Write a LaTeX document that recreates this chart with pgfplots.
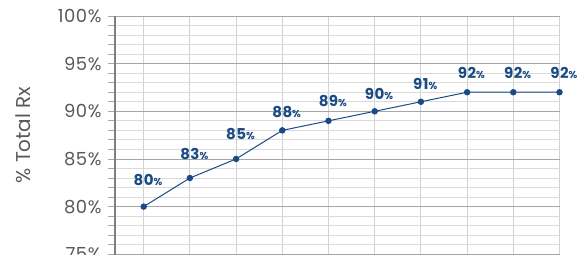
\documentclass[border=0pt]{standalone}
\usepackage{fontspec}
\setmainfont{Poppins}
\usepackage{pgfplots}
\usepackage{pgfplotstable}
\pgfplotsset{compat=1.18}
\pgfkeys{/pgf/number format/assume math mode=true}
\definecolor{navy}{HTML}{1A4B84}
\definecolor{lblgray}{HTML}{595959}
\definecolor{majgrid}{HTML}{A6A6A6}
\definecolor{mingrid}{HTML}{DADADA}
\definecolor{vgrid}{HTML}{D2D2D2}
\definecolor{axgray}{HTML}{7F7F7F}
\pgfplotstableread{
x y off
1 80 21
2 83 19
3 85 19
4 88 12.6
5 89 14.3
6 90 12
7 91 12.3
8 92 13.7
9 92 13.7
10 92 13.7
}\data
\begin{document}
\begin{tikzpicture}
\begin{axis}[
  name=ax,
  scale only axis,
  width=444.5pt, height=247.8pt,
  xmin=0.379, xmax=10, ymin=74, ymax=100,
  axis x line*=bottom, axis y line*=left,
  xtick={1,...,10}, xticklabels={},
  ytick={75,80,...,100}, minor y tick num=4,
  xmajorgrids, ymajorgrids, yminorgrids,
  major x grid style={vgrid, line width=0.8pt},
  major y grid style={majgrid, line width=0.9pt},
  minor y grid style={mingrid, line width=0.9pt},
  tick align=outside,
  major tick length=7pt, minor tick length=7pt,
  y axis line style={axgray, line width=1.4pt},
  x axis line style={draw=none},
  xtick style={draw=none},
  ytick style={majgrid, line width=0.9pt},
  minor tick style={mingrid, line width=0.9pt},
  yticklabel={\pgfmathprintnumber{\tick}\%},
  yticklabel style={font=\fontsize{18}{21}\selectfont\addfontfeatures{LetterSpace=3}, text=lblgray, xshift=-3pt},
  ylabel={\% Total Rx},
  ylabel style={at={(axis description cs:-0.207,0.52)}, anchor=center, font=\fontsize{20}{24}\selectfont, text=lblgray},
  clip=false,
]
\addplot[navy, line width=1pt, mark=*, mark size=2.7pt,
  visualization depends on={\thisrow{off}\as\off},
  point meta=explicit,
  nodes near coords={\pgfmathprintnumber{\pgfplotspointmeta}\rlap{\fontsize{10}{12}\selectfont\bfseries\%}},
  every node near coord/.append style={anchor=base, yshift=\off pt, font=\fontsize{15}{18}\selectfont\bfseries\addfontfeatures{LetterSpace=3}, text=navy, inner sep=0pt},
] table[x=x, y=y, meta=y] {\data};
\end{axis}
\pgfresetboundingbox
\path[use as bounding box] ([xshift=-115pt,yshift=16pt]ax.north west) rectangle ([xshift=462pt,yshift=-238pt]ax.north west);
\end{tikzpicture}
\end{document}
